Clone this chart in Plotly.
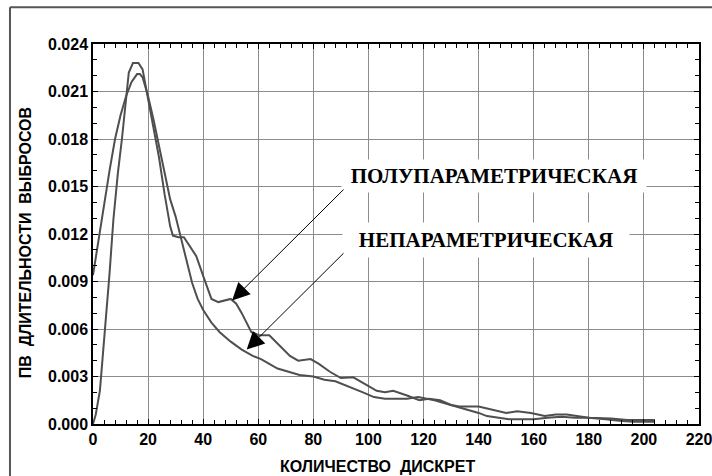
import plotly.graph_objects as go

# Semiparametric estimate (bumpy curve)
semi_x = [0, 1, 2.5, 4.4, 6, 7.4, 9, 10.5, 12, 13, 14.5, 16.5, 18, 19.5, 22, 24, 26, 28, 29, 31, 33,
          35, 37.5, 40.5, 43, 45.5, 48, 50, 52, 54, 57.5, 60.5, 64, 67, 71.5, 74.5, 79, 82, 86, 90,
          94.5, 98, 103, 106, 109, 114, 118.5, 122, 126, 130, 133, 140, 145, 150, 154, 159, 164,
          168, 172, 176, 180, 188, 194, 204]
semi_y = [0.0, 0.0006, 0.0021, 0.0059, 0.0095, 0.0129, 0.0158, 0.0180, 0.0205, 0.0222, 0.0228,
          0.0228, 0.0224, 0.0210, 0.0188, 0.0168, 0.0145, 0.0125, 0.0119, 0.0118, 0.0118, 0.0113,
          0.0106, 0.0091, 0.0079, 0.0077, 0.0078, 0.0079, 0.0076, 0.0070, 0.0058, 0.0056, 0.0056,
          0.0051, 0.0043, 0.0040, 0.0041, 0.0038, 0.0033, 0.0029, 0.00295, 0.0026, 0.0021, 0.0020,
          0.0021, 0.0018, 0.0015, 0.0016, 0.0015, 0.0012, 0.0011, 0.0011, 0.0009, 0.0007, 0.0008,
          0.0007, 0.0005, 0.0006, 0.0006, 0.0005, 0.0004, 0.00035, 0.00025, 0.00025]

# Nonparametric estimate (smooth curve)
nonp_x = [0, 2, 4, 6, 8, 10, 12, 14, 16, 17, 18, 19.5, 20, 22, 24, 26, 28, 30, 32, 34, 36, 38, 40,
          43, 46, 50, 54, 58, 61, 64, 67, 71, 75, 80, 84, 88, 91, 95, 98, 102, 106, 110, 114, 118,
          121, 124, 128, 132, 136, 140, 143, 147, 151, 156, 160, 165, 170, 175, 180, 186, 191, 196,
          200, 204]
nonp_y = [0.0094, 0.0117, 0.0138, 0.0160, 0.0180, 0.0195, 0.0207, 0.0216, 0.0221, 0.0221, 0.0219,
          0.0210, 0.0207, 0.0192, 0.0175, 0.0158, 0.0142, 0.0131, 0.0117, 0.0102, 0.0089, 0.0079,
          0.0072, 0.0064, 0.0058, 0.0052, 0.0047, 0.0043, 0.0041, 0.0038, 0.0035, 0.0033, 0.0031,
          0.0030, 0.0028, 0.0027, 0.0025, 0.0022, 0.0020, 0.0017, 0.0016, 0.0016, 0.0016, 0.0017,
          0.0016, 0.0015, 0.0013, 0.0011, 0.0009, 0.0007, 0.0005, 0.0004, 0.0003, 0.0003, 0.0003,
          0.0004, 0.00046, 0.0004, 0.0004, 0.0003, 0.0002, 0.00015, 0.00015, 0.00015]

x_ticks = [0, 20, 40, 60, 80, 100, 120, 140, 160, 180, 200, 220]
y_ticks = [0.000, 0.003, 0.006, 0.009, 0.012, 0.015, 0.018, 0.021, 0.024]

label_semi = "ПОЛУПАРАМЕТРИЧЕСКАЯ"
label_nonp = "НЕПАРАМЕТРИЧЕСКАЯ"
x_title = "КОЛИЧЕСТВО  ДИСКРЕТ"
y_title = "ПВ  ДЛИТЕЛЬНОСТИ  ВЫБРОСОВ"

line_col = "#4f4f4f"
grid_col = "#8c8c8c"

fig = go.Figure()
fig.add_trace(go.Scatter(x=semi_x, y=semi_y, mode="lines",
                         line=dict(color=line_col, width=2), name=label_semi))
fig.add_trace(go.Scatter(x=nonp_x, y=nonp_y, mode="lines",
                         line=dict(color=line_col, width=2), name=label_nonp))

tick_font = dict(family="Liberation Sans, Arial, sans-serif", size=16, color="black", weight="bold")

fig.update_xaxes(range=[0, 220], tickvals=x_ticks, ticktext=[str(v) for v in x_ticks],
                 showgrid=True, gridcolor=grid_col, gridwidth=1, automargin=False,
                 showline=True, linecolor="black", linewidth=1.5, mirror="allticks",
                 ticks="inside", ticklen=5, tickcolor="black", tickfont=tick_font,
                 ticklabeloverflow="allow",
                 minor=dict(dtick=4, ticks="inside", ticklen=4, tickcolor="black", showgrid=False),
                 zeroline=False)
fig.update_yaxes(range=[0, 0.024], tickvals=y_ticks, ticktext=[f"{v:.3f}" for v in y_ticks],
                 showgrid=True, gridcolor=grid_col, gridwidth=1, automargin=False,
                 showline=True, linecolor="black", linewidth=1.5, mirror="allticks",
                 ticks="inside", ticklen=5, tickcolor="black", tickfont=tick_font,
                 ticklabeloverflow="allow",
                 minor=dict(dtick=0.001, ticks="inside", ticklen=4, tickcolor="black", showgrid=False),
                 zeroline=False)

title_font = dict(family="Liberation Sans, Arial, sans-serif", size=16, color="black", weight="bold")
label_font = dict(family="Liberation Serif, Times New Roman, serif", size=21, color="black", weight="bold")

annotations = [
    # axis titles
    dict(x=0.47, y=-0.113, xref="paper", yref="paper", text=x_title, showarrow=False,
         font=title_font, xanchor="center", yanchor="middle"),
    dict(x=-0.112, y=0.476, xref="paper", yref="paper", text=y_title, showarrow=False,
         font=title_font, textangle=-90, xanchor="center", yanchor="middle"),
    # labels with white boxes
    dict(x=145.4, y=0.01565, xref="x", yref="y", text=label_semi, showarrow=False,
         font=label_font, bgcolor="white", width=304, height=32, borderpad=0),
    dict(x=142.8, y=0.01165, xref="x", yref="y", text=label_nonp, showarrow=False,
         font=label_font, bgcolor="white", width=286, height=34, borderpad=0),
    # arrows
    dict(x=50.5, y=0.0078, xref="x", yref="y", ax=91.5, ay=0.0149, axref="x", ayref="y",
         text="", showarrow=True, arrowhead=2, arrowsize=3.5, arrowwidth=1, arrowcolor="black",
         standoff=0),
    dict(x=55.8, y=0.0047, xref="x", yref="y", ax=91.5, ay=0.01088, axref="x", ayref="y",
         text="", showarrow=True, arrowhead=2, arrowsize=3.5, arrowwidth=1, arrowcolor="black",
         standoff=0),
]

# outer frame fragments (top and left border of the original figure)
shapes = [
    dict(type="line", xref="paper", yref="paper", x0=-0.137, x1=1.1, y0=1.097, y1=1.097,
         line=dict(color="#555555", width=2)),
    dict(type="line", xref="paper", yref="paper", x0=-0.137, x1=-0.137, y0=1.097, y1=-0.2,
         line=dict(color="#555555", width=2)),
]

fig.update_layout(width=712, height=476, margin=dict(l=93, r=13, t=44, b=52, autoexpand=False),
                  plot_bgcolor="white", paper_bgcolor="white", showlegend=False,
                  annotations=annotations, shapes=shapes)

fig.write_html("out.html", config={"displayModeBar": False},
               post_script="document.body.style.margin='0';document.body.style.overflow='hidden';")
